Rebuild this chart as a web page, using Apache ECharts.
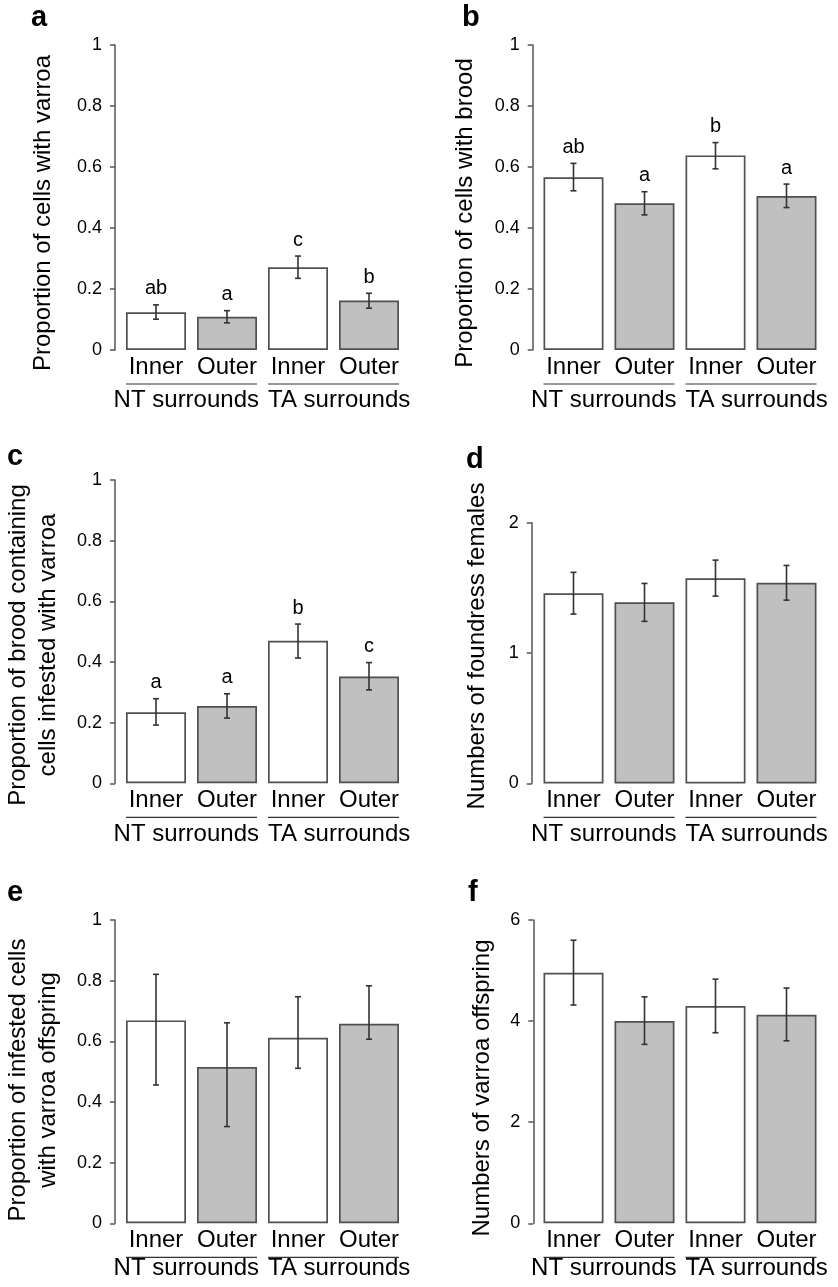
<!DOCTYPE html>
<html>
<head>
<meta charset="utf-8">
<script src="https://cdn.jsdelivr.net/npm/echarts@6/dist/echarts.min.js"></script>
<style>
html, body { margin: 0; padding: 0; background: #fff; }
#main { width: 838px; height: 1287px; }
</style>
</head>
<body>
<div id="main"></div>
<script>
var categories = ['Inner', 'Outer', 'Inner', 'Outer'];
var groupNames = ['NT surrounds', 'TA surrounds'];
var groupSpans = [[0, 1], [2, 3]];
var fillColors = ['#ffffff', '#c0c0c0', '#ffffff', '#c0c0c0'];

// a - cells with varroa
var varroaMean = [0.124, 0.109, 0.271, 0.162];
var varroaLow = [0.101, 0.089, 0.235, 0.137];
var varroaHigh = [0.148, 0.129, 0.308, 0.186];
var varroaLetters = ['ab', 'a', 'c', 'b'];
// b - cells with brood
var broodMean = [0.566, 0.481, 0.638, 0.505];
var broodLow = [0.522, 0.443, 0.594, 0.467];
var broodHigh = [0.612, 0.519, 0.680, 0.544];
var broodLetters = ['ab', 'a', 'b', 'a'];
// c - brood infested with varroa
var infestMean = [0.234, 0.255, 0.470, 0.352];
var infestLow = [0.192, 0.215, 0.413, 0.308];
var infestHigh = [0.279, 0.295, 0.525, 0.398];
var infestLetters = ['a', 'a', 'b', 'c'];
// d - foundress females
var foundressMean = [1.458, 1.389, 1.573, 1.539];
var foundressLow = [1.299, 1.243, 1.437, 1.406];
var foundressHigh = [1.619, 1.534, 1.713, 1.672];
// e - infested cells with offspring
var offspringPropMean = [0.669, 0.515, 0.612, 0.658];
var offspringPropLow = [0.456, 0.319, 0.511, 0.607];
var offspringPropHigh = [0.821, 0.661, 0.747, 0.783];
// f - number of offspring
var offspringNumMean = [4.957, 4.001, 4.298, 4.126];
var offspringNumLow = [4.318, 3.540, 3.770, 3.610];
var offspringNumHigh = [5.600, 4.480, 4.830, 4.654];

var FONT = '"Liberation Sans", Arial, Helvetica, sans-serif';
var barW = 60;

var panels = [
    {grid: {left: 120.5, top: 45, width: 284, height: 305}, off: 5.5, max: 1, step: 0.2,
     mean: varroaMean, low: varroaLow, high: varroaHigh, letters: varroaLetters, gdy: 50},
    {grid: {left: 538, top: 45, width: 284, height: 305}, off: 5.3, max: 1, step: 0.2,
     mean: broodMean, low: broodLow, high: broodHigh, letters: broodLetters, gdy: 50},
    {grid: {left: 120.5, top: 480, width: 284, height: 303.3}, off: 5.5, max: 1, step: 0.2,
     mean: infestMean, low: infestLow, high: infestHigh, letters: infestLetters, gdy: 51},
    {grid: {left: 538, top: 522.7, width: 284, height: 260.7}, off: 6.3, max: 2, step: 1,
     mean: foundressMean, low: foundressLow, high: foundressHigh, letters: null, gdy: 51},
    {grid: {left: 120.5, top: 920, width: 284, height: 303.3}, off: 5.5, max: 1, step: 0.2,
     mean: offspringPropMean, low: offspringPropLow, high: offspringPropHigh, letters: null, gdy: 45},
    {grid: {left: 538, top: 920, width: 284, height: 303.3}, off: 4.7, max: 6, step: 2,
     mean: offspringNumMean, low: offspringNumLow, high: offspringNumHigh, letters: null, gdy: 45}
];

function errorSeries(i, p) {
    return {
        type: 'custom',
        xAxisIndex: i,
        yAxisIndex: i,
        clip: false,
        z: 5,
        silent: true,
        data: p.low.map(function (v, k) { return [k, v, p.high[k]]; }),
        encode: {x: 0, y: [1, 2]},
        renderItem: function (params, api) {
            var x = api.value(0);
            var lo = api.coord([x, api.value(1)]);
            var hi = api.coord([x, api.value(2)]);
            var cap = 3;
            function st() { return {stroke: '#333', lineWidth: 1.6}; }
            var children = [
                {type: 'line', shape: {x1: lo[0], y1: lo[1], x2: hi[0], y2: hi[1]}, style: st()},
                {type: 'line', shape: {x1: lo[0] - cap, y1: lo[1], x2: lo[0] + cap, y2: lo[1]}, style: st()},
                {type: 'line', shape: {x1: hi[0] - cap, y1: hi[1], x2: hi[0] + cap, y2: hi[1]}, style: st()}
            ];
            if (p.letters) {
                children.push({
                    type: 'text',
                    style: {
                        text: p.letters[params.dataIndex],
                        x: hi[0], y: hi[1] - 6,
                        align: 'center', verticalAlign: 'bottom',
                        fill: '#000', font: '20px ' + FONT
                    }
                });
            }
            return {type: 'group', children: children};
        }
    };
}

function groupSeries(i, p) {
    return {
        type: 'custom',
        xAxisIndex: i,
        yAxisIndex: i,
        clip: false,
        silent: true,
        data: groupSpans,
        encode: {x: [0, 1]},
        renderItem: function (params, api) {
            var a = api.coord([api.value(0), 0]);
            var b = api.coord([api.value(1), 0]);
            var x1 = a[0] - barW / 2, x2 = b[0] + barW / 2, y = a[1] + 34;
            var first = params.dataIndex === 0;
            return {
                type: 'group',
                children: [
                    {type: 'line', shape: {x1: x1, y1: y, x2: x2, y2: y}, style: {stroke: '#333', lineWidth: 1.2}},
                    {type: 'text', style: {
                        text: groupNames[params.dataIndex],
                        x: first ? x2 + 2 : x1,
                        y: a[1] + p.gdy,
                        align: first ? 'right' : 'left',
                        verticalAlign: 'middle',
                        fill: '#000', font: '24px ' + FONT
                    }}
                ]
            };
        }
    };
}

var grids = [], xAxes = [], yAxes = [], series = [];
panels.forEach(function (p, i) {
    grids.push(p.grid);
    xAxes.push({
        type: 'category',
        gridIndex: i,
        data: categories,
        axisLine: {show: false},
        axisTick: {show: false},
        axisLabel: {color: '#000', fontSize: 24, fontFamily: FONT, margin: 5, interval: 0}
    });
    yAxes.push({
        type: 'value',
        gridIndex: i,
        min: 0,
        max: p.max,
        interval: p.step,
        offset: p.off,
        axisLine: {show: true, lineStyle: {color: '#555', width: 1.5}},
        axisTick: {show: true, length: 5, lineStyle: {color: '#555', width: 1.5}},
        splitLine: {show: false},
        axisLabel: {color: '#000', fontSize: 18, fontFamily: FONT, margin: 13}
    });
    series.push({
        type: 'bar',
        xAxisIndex: i,
        yAxisIndex: i,
        barWidth: barW,
        silent: true,
        data: p.mean.map(function (v, k) {
            return {value: v, itemStyle: {color: fillColors[k]}};
        }),
        itemStyle: {borderColor: '#505050', borderWidth: 1.7}
    });
    series.push(errorSeries(i, p));
    series.push(groupSeries(i, p));
});

function letter(t, x, y) {
    return {type: 'text', left: x, top: y, style: {text: t, font: 'bold 29px ' + FONT, fill: '#000'}};
}
function ytitle(t, x, y) {
    return {
        type: 'text', x: x, y: y, rotation: Math.PI / 2,
        style: {text: t, font: '24px ' + FONT, fill: '#000', align: 'center', verticalAlign: 'middle', lineHeight: 30}
    };
}

var myChart = echarts.init(document.getElementById('main'));
myChart.setOption({
    backgroundColor: '#fff',
    animation: false,
    grid: grids,
    xAxis: xAxes,
    yAxis: yAxes,
    series: series,
    graphic: [
        letter('a', 31, 3),
        letter('b', 462, 3),
        letter('c', 7, 442),
        letter('d', 466, 445),
        letter('e', 7, 878),
        letter('f', 468, 878),
        ytitle('Proportion of cells with varroa', 43, 213),
        ytitle('Proportion of cells with brood', 465, 213),
        ytitle('Proportion of brood containing\ncells infested with varroa', 33, 645),
        ytitle('Numbers of foundress females', 477, 646),
        ytitle('Proportion of infested cells\nwith varroa offspring', 33, 1080),
        ytitle('Numbers of varroa offspring', 482, 1088)
    ]
});
</script>
</body>
</html>
